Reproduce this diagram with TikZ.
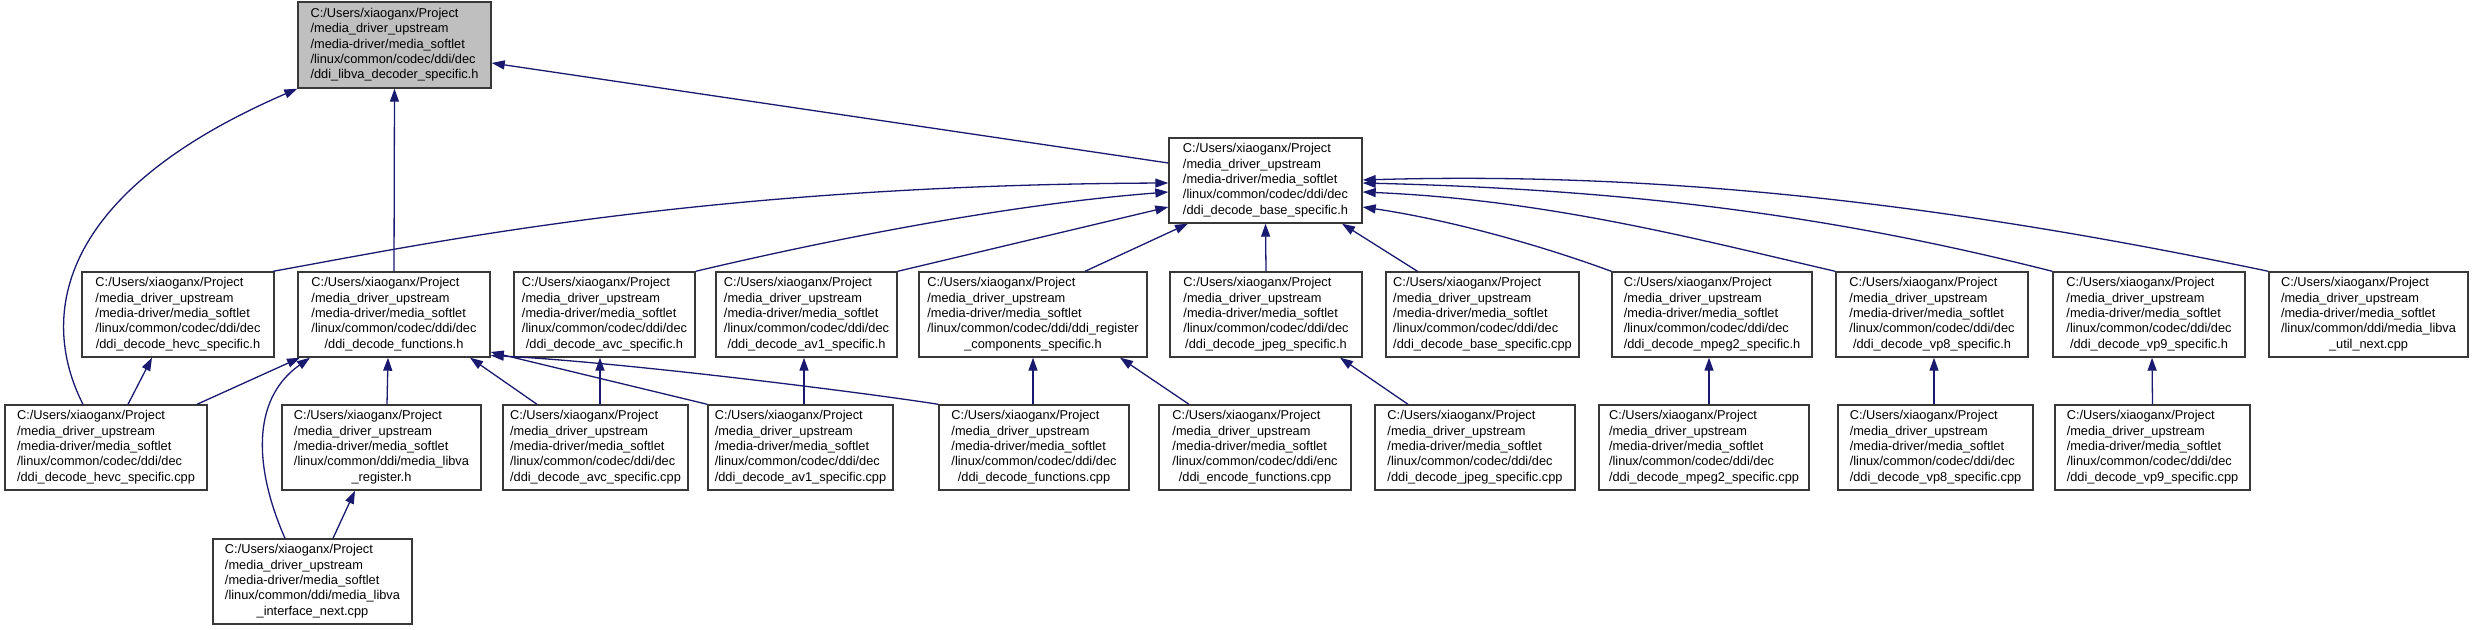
\documentclass[tikz,border=0pt]{standalone}
\usepackage{fontspec}
\setmainfont{Liberation Sans}
\usetikzlibrary{arrows.meta}
\definecolor{edgeblue}{RGB}{25,25,112}
\definecolor{topfill}{RGB}{191,191,191}
\newcommand\fl[5]{\begin{tabular}{@{}l@{}}#1\\#2\\#3\\#4\\\multicolumn{1}{@{}c@{}}{#5}\end{tabular}}
\newcommand\hd{C:/Users/xiaoganx/Project}
\newcommand\hdb{/media\_driver\_upstream}
\newcommand\hdc{/media-driver/media\_softlet}
\newcommand\hdd{/linux/common/codec/ddi/dec}
\begin{document}
\begin{tikzpicture}[x=1pt,y=-1pt,
  filebox/.style={draw=black!78,line width=1.4pt,fill=white,inner sep=0pt,
    minimum height=85pt,font=\fontsize{12.8}{15.3}\selectfont},
  dep/.style={draw=edgeblue,line width=1.3pt,-{Triangle[length=13pt,width=9pt]}}]
\useasboundingbox (0,0) rectangle (2473,629);
% top
\node[filebox,fill=topfill,minimum width=193pt,minimum height=86pt] (top) at (394.5,45) {\fl{\hd}{\hdb}{\hdc}{\hdd}{/ddi\_libva\_decoder\_specific.h}};
\node[filebox,minimum width=193pt] (bh) at (1265.5,180.5) {\fl{\hd}{\hdb}{\hdc}{\hdd}{/ddi\_decode\_base\_specific.h}};
% row 2
\node[filebox,minimum width=192pt] (hevch) at (178,314.5) {\fl{\hd}{\hdb}{\hdc}{\hdd}{/ddi\_decode\_hevc\_specific.h}};
\node[filebox,minimum width=192pt] (funch) at (394,314.5) {\fl{\hd}{\hdb}{\hdc}{\hdd}{/ddi\_decode\_functions.h}};
\node[filebox,minimum width=181pt] (avch) at (604.5,314.5) {\fl{\hd}{\hdb}{\hdc}{\hdd}{/ddi\_decode\_avc\_specific.h}};
\node[filebox,minimum width=181pt] (av1h) at (806.5,314.5) {\fl{\hd}{\hdb}{\hdc}{\hdd}{/ddi\_decode\_av1\_specific.h}};
\node[filebox,minimum width=228pt] (regcomp) at (1033,314.5) {\fl{\hd}{\hdb}{\hdc}{/linux/common/codec/ddi/ddi\_register}{\_components\_specific.h}};
\node[filebox,minimum width=192pt] (jpegh) at (1266,314.5) {\fl{\hd}{\hdb}{\hdc}{\hdd}{/ddi\_decode\_jpeg\_specific.h}};
\node[filebox,minimum width=193pt] (basecpp) at (1482.5,314.5) {\fl{\hd}{\hdb}{\hdc}{\hdd}{/ddi\_decode\_base\_specific.cpp}};
\node[filebox,minimum width=200pt] (mpeg2h) at (1712,314.5) {\fl{\hd}{\hdb}{\hdc}{\hdd}{/ddi\_decode\_mpeg2\_specific.h}};
\node[filebox,minimum width=192pt] (vp8h) at (1932,314.5) {\fl{\hd}{\hdb}{\hdc}{\hdd}{/ddi\_decode\_vp8\_specific.h}};
\node[filebox,minimum width=192pt] (vp9h) at (2149,314.5) {\fl{\hd}{\hdb}{\hdc}{\hdd}{/ddi\_decode\_vp9\_specific.h}};
\node[filebox,minimum width=199pt] (utilnext) at (2368.5,314.5) {\fl{\hd}{\hdb}{\hdc}{/linux/common/ddi/media\_libva}{\_util\_next.cpp}};
% row 3
\node[filebox,minimum width=202pt] (hevccpp) at (106,447.5) {\fl{\hd}{\hdb}{\hdc}{\hdd}{/ddi\_decode\_hevc\_specific.cpp}};
\node[filebox,minimum width=199pt] (registerh) at (381.5,447.5) {\fl{\hd}{\hdb}{\hdc}{/linux/common/ddi/media\_libva}{\_register.h}};
\node[filebox,minimum width=185pt] (avccpp) at (595.5,447.5) {\fl{\hd}{\hdb}{\hdc}{\hdd}{/ddi\_decode\_avc\_specific.cpp}};
\node[filebox,minimum width=185pt] (av1cpp) at (800.5,447.5) {\fl{\hd}{\hdb}{\hdc}{\hdd}{/ddi\_decode\_av1\_specific.cpp}};
\node[filebox,minimum width=190pt] (funccpp) at (1034,447.5) {\fl{\hd}{\hdb}{\hdc}{\hdd}{/ddi\_decode\_functions.cpp}};
\node[filebox,minimum width=192pt] (enccpp) at (1255,447.5) {\fl{\hd}{\hdb}{\hdc}{/linux/common/codec/ddi/enc}{/ddi\_encode\_functions.cpp}};
\node[filebox,minimum width=200pt] (jpegcpp) at (1475,447.5) {\fl{\hd}{\hdb}{\hdc}{\hdd}{/ddi\_decode\_jpeg\_specific.cpp}};
\node[filebox,minimum width=210pt] (mpeg2cpp) at (1704,447.5) {\fl{\hd}{\hdb}{\hdc}{\hdd}{/ddi\_decode\_mpeg2\_specific.cpp}};
\node[filebox,minimum width=195pt] (vp8cpp) at (1935.5,447.5) {\fl{\hd}{\hdb}{\hdc}{\hdd}{/ddi\_decode\_vp8\_specific.cpp}};
\node[filebox,minimum width=195pt] (vp9cpp) at (2152.5,447.5) {\fl{\hd}{\hdb}{\hdc}{\hdd}{/ddi\_decode\_vp9\_specific.cpp}};
% row 4
\node[filebox,minimum width=199pt] (ifnext) at (312.5,581.5) {\fl{\hd}{\hdb}{\hdc}{/linux/common/ddi/media\_libva}{\_interface\_next.cpp}};
% edges to top
\draw[dep] ([yshift=17.5pt]bh.west) -- ([yshift=-18pt]top.east);
\draw[dep] (funch.north) -- (top.south);
\draw[dep] ([xshift=-23pt]hevccpp.north) .. controls (45,330) and (40,200) .. (top.south west);
% edges to base.h
\draw[dep] ([xshift=95pt]hevch.north) .. controls (420,245) and (700,185) .. ([yshift=-2.5pt]bh.west);
\draw[dep] (avch.north east) .. controls (815,243) and (1000,205) .. ([yshift=-11.5pt]bh.west);
\draw[dep] (av1h.north east) -- ([yshift=-26.5pt]bh.west);
\draw[dep] ([xshift=52pt]regcomp.north) -- ([xshift=-77.5pt]bh.south);
\draw[dep] (jpegh.north) -- (bh.south);
\draw[dep] ([xshift=-65pt]basecpp.north) -- ([xshift=76.5pt]bh.south);
\draw[dep] (mpeg2h.north west) .. controls (1540,245) and (1450,220) .. ([yshift=-26.5pt]bh.east);
\draw[dep] (vp8h.north west) .. controls (1700,240) and (1550,200) .. ([yshift=-11.5pt]bh.east);
\draw[dep] (vp9h.north west) .. controls (1850,220) and (1650,190) .. ([yshift=-2.5pt]bh.east);
\draw[dep] (utilnext.north west) .. controls (2000,215) and (1700,170) .. ([yshift=0.5pt]bh.east);
% row 3 edges
\draw[dep] ([xshift=22pt]hevccpp.north) -- ([xshift=-26pt]hevch.south);
\draw[dep] ([xshift=91pt]hevccpp.north) -- ([xshift=-94pt]funch.south);
\draw[dep] ([xshift=5.5pt]registerh.north) -- ([xshift=-6pt]funch.south);
\draw[dep] ([xshift=20.5pt]ifnext.north) -- ([xshift=-26.5pt]registerh.south);
\draw[dep] ([xshift=-27.5pt]ifnext.north) .. controls (255,470) and (250,400) .. ([xshift=-84pt]funch.south);
\draw[dep] ([xshift=-58.5pt]avccpp.north) -- ([xshift=76pt]funch.south);
\draw[dep] ([xshift=4.5pt]avccpp.north) -- ([xshift=-4.5pt]avch.south);
\draw[dep] (av1cpp.north west) -- ([yshift=-37.5pt]funch.east);
\draw[dep] ([xshift=3.5pt]av1cpp.north) -- ([xshift=-2.5pt]av1h.south);
\draw[dep] (funccpp.north west) .. controls (860,392) and (620,362) .. ([yshift=-41pt]funch.east);
\draw[dep] ([xshift=-1pt]funccpp.north) -- (regcomp.south);
\draw[dep] ([xshift=-66pt]enccpp.north) -- ([xshift=87pt]regcomp.south);
\draw[dep] ([xshift=-67pt]jpegcpp.north) -- ([xshift=74pt]jpegh.south);
\draw[dep] ([xshift=5pt]mpeg2cpp.north) -- ([xshift=-3pt]mpeg2h.south);
\draw[dep] ([xshift=-1.5pt]vp8cpp.north) -- ([xshift=2pt]vp8h.south);
\draw[dep] (vp9cpp.north) -- ([xshift=3pt]vp9h.south);
\end{tikzpicture}
\end{document}
